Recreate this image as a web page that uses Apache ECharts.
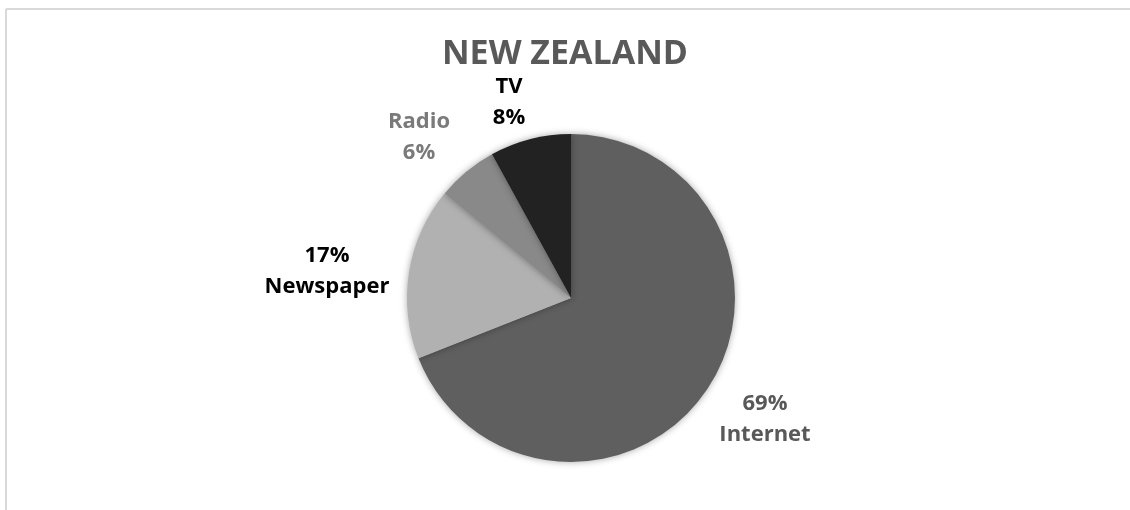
<!DOCTYPE html>
<html>
<head>
<meta charset="utf-8">
<script src="https://cdn.jsdelivr.net/npm/echarts@6/dist/echarts.min.js"></script>
<style>
html,body{margin:0;padding:0;background:#fff;}
#chart{width:1130px;height:510px;}
</style>
</head>
<body>
<div id="chart"></div>
<script>
const titleText = 'NEW ZEALAND';
const categories = ['Internet', 'Newspaper', 'Radio', 'TV'];
const values = [69, 17, 6, 8];
// label line order: true = percent first, false = name first
const percentFirst = [true, true, false, false];

const sliceColors = ['#5f5f5f', '#b1b1b1', '#898989', '#222222'];
const labelColors = ['#595959', '#000000', '#7a7a7a', '#000000'];
const labelAnchors = [[765, 419], [327, 271], [419, 137], [509, 102]];

const chart = echarts.init(document.getElementById('chart'));
chart.setOption({
  animation: false,
  title: {
    text: titleText,
    left: 'center',
    top: 32,
    textStyle: { fontFamily: 'Open Sans', fontWeight: 'bold', fontSize: 34, color: '#595959' }
  },
  graphic: [
    { type: 'line', shape: { x1: 6, y1: 9, x2: 1130, y2: 9 }, style: { stroke: '#d9d9d9', lineWidth: 2 } },
    { type: 'line', shape: { x1: 6, y1: 9, x2: 6, y2: 510 }, style: { stroke: '#d9d9d9', lineWidth: 2 } }
  ],
  series: [{
    type: 'pie',
    center: [571, 298],
    radius: 164,
    startAngle: 90,
    clockwise: true,
    data: categories.map((c, i) => ({
      name: c,
      value: values[i],
      itemStyle: { color: sliceColors[i] },
      label: { color: labelColors[i] }
    })),
    itemStyle: {
      borderWidth: 0,
      shadowBlur: 7,
      shadowColor: 'rgba(0,0,0,0.35)'
    },
    label: {
      show: true,
      position: 'outside',
      fontFamily: 'Open Sans',
      fontWeight: 'bold',
      fontSize: 22,
      lineHeight: 31,
      align: 'center',
      formatter: p => percentFirst[p.dataIndex] ? (p.value + '%\n' + p.name) : (p.name + '\n' + p.value + '%')
    },
    labelLine: { show: false },
    labelLayout: p => ({
      x: labelAnchors[p.dataIndex][0],
      y: labelAnchors[p.dataIndex][1],
      align: 'center',
      verticalAlign: 'middle'
    })
  }]
});
</script>
</body>
</html>
